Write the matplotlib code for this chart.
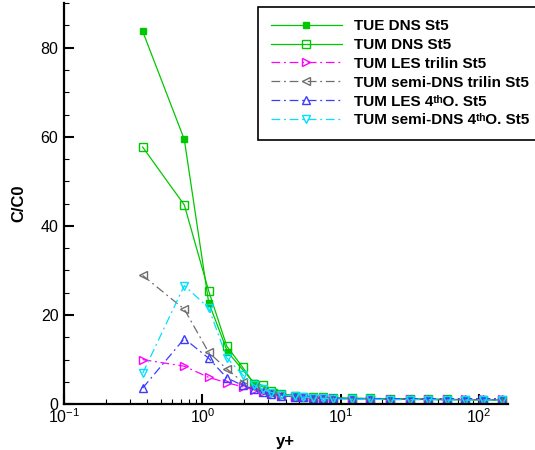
import matplotlib
matplotlib.use("Agg")
import matplotlib.pyplot as plt
from matplotlib.ticker import MultipleLocator, LogLocator, LogFormatterMathtext, NullFormatter

plt.rcParams['font.family'] = ['Liberation Sans', 'DejaVu Sans']
plt.rcParams['mathtext.fontset'] = 'custom'
plt.rcParams['mathtext.rm'] = 'Liberation Sans'
plt.rcParams['mathtext.it'] = 'Liberation Sans:italic'
plt.rcParams['mathtext.bf'] = 'Liberation Sans:bold'

# y+ positions of the TUM runs
yplusTum = [0.37, 0.74, 1.11, 1.5, 1.95, 2.35, 2.75, 3.15, 3.7, 4.65, 5.3, 6.3, 7.4, 8.75,
            12, 16.2, 22.6, 31.6, 42.6, 58, 78.5, 106, 145]
# y+ positions of the TUE run
yplusTue = [0.37, 0.74, 1.11, 1.52, 2.35, 3.3, 4.65, 6.3, 8.75, 12, 16.2, 22.6, 31.6,
            42.6, 58, 78.5, 106, 145]

tueDns = [83.7, 59.4, 22.8, 11.7, 4.8, 2.7, 1.8, 1.5, 1.4, 1.3, 1.2, 1.2, 1.1, 1.1, 1.0, 1.0, 0.9, 0.9]
tumDns = [57.7, 44.7, 25.4, 13.0, 8.3, 4.6, 4.2, 2.9, 2.3, 1.9, 1.7, 1.6, 1.5, 1.4,
          1.3, 1.3, 1.2, 1.2, 1.1, 1.1, 1.0, 1.0, 0.9]
tumLesTrilin = [10.0, 8.5, 6.0, 4.8, 3.9, 3.2, 2.7, 2.2, 1.9, 1.7, 1.5, 1.4, 1.3, 1.3,
                1.2, 1.2, 1.2, 1.2, 1.2, 1.2, 1.2, 1.2, 1.2]
tumSemiTrilin = [28.9, 21.3, 11.6, 7.9, 5.0, 3.8, 3.0, 2.4, 2.0, 1.7, 1.5, 1.4, 1.3, 1.2,
                 1.2, 1.1, 1.1, 1.1, 1.0, 1.0, 1.0, 1.0, 1.0]
tumLes4th = [3.6, 14.7, 10.3, 5.9, 4.2, 3.4, 2.8, 2.3, 1.9, 1.7, 1.5, 1.4, 1.3, 1.3,
             1.2, 1.2, 1.2, 1.2, 1.2, 1.2, 1.2, 1.2, 1.2]
tumSemi4th = [6.9, 26.6, 21.6, 10.4, 6.6, 4.3, 3.3, 2.6, 2.1, 1.8, 1.6, 1.4, 1.3, 1.2,
              1.1, 1.1, 1.0, 1.0, 1.0, 0.9, 0.9, 0.9, 0.9]

labels = ["TUE DNS St5", "TUM DNS St5", "TUM LES trilin St5", "TUM semi-DNS trilin St5",
          "TUM LES 4\u1d57\u02b0O. St5", "TUM semi-DNS 4\u1d57\u02b0O. St5"]

fig = plt.figure(figsize=(5.35, 4.5), dpi=100)
ax = fig.add_axes([0.1196, 0.102, 0.829, 0.891])

dashDot = (0, (7, 3, 1.5, 3))
ax.plot(yplusTue, tueDns, color='#00c800', lw=0.9, marker='s', ms=5, mfc='#00c800', label=labels[0])
ax.plot(yplusTum, tumDns, color='#00c800', lw=0.9, marker='s', ms=6, mfc='none', label=labels[1])
ax.plot(yplusTum, tumLesTrilin, color='#ff00ff', lw=0.9, ls=dashDot, marker='>', ms=6, mfc='none', label=labels[2])
ax.plot(yplusTum, tumSemiTrilin, color='#6e6e6e', lw=0.9, ls=dashDot, marker='<', ms=6, mfc='none', label=labels[3])
ax.plot(yplusTum, tumLes4th, color='#3c3cff', lw=0.9, ls=dashDot, marker='^', ms=6, mfc='none', label=labels[4])
ax.plot(yplusTum, tumSemi4th, color='#00e0ff', lw=0.9, ls=dashDot, marker='v', ms=6, mfc='none', label=labels[5])

ax.set_xscale('log')
ax.set_xlim(0.1, 160)
ax.set_ylim(0, 90)
ax.spines['top'].set_visible(False)
ax.spines['right'].set_visible(False)
ax.spines['left'].set_linewidth(1.6)
ax.spines['bottom'].set_linewidth(1.6)

ax.yaxis.set_major_locator(MultipleLocator(20))
ax.yaxis.set_minor_locator(MultipleLocator(5))
ax.xaxis.set_major_locator(LogLocator(base=10))
ax.xaxis.set_major_formatter(LogFormatterMathtext())
ax.xaxis.set_minor_locator(LogLocator(base=10, subs=range(2, 10)))
ax.xaxis.set_minor_formatter(NullFormatter())
ax.tick_params(which='major', direction='in', length=7, width=1.5, labelsize=11.5)
ax.tick_params(axis='x', which='major', pad=2)
ax.tick_params(axis='y', which='major', pad=4)
ax.tick_params(which='minor', direction='in', length=3.5, width=0.8)

ax.set_xlabel('y+', fontsize=12, fontweight='bold', labelpad=6)
ax.set_ylabel('C/C0', fontsize=12, fontweight='bold', labelpad=10)

leg = ax.legend(loc='upper right', bbox_to_anchor=(1.012, 0.985), bbox_transform=fig.transFigure,
                prop={'weight': 'bold', 'size': 11}, handlelength=4.65, labelspacing=0.32,
                fancybox=False, edgecolor='black', framealpha=1, borderpad=0.8,
                handletextpad=0.8, markerscale=0.85, borderaxespad=0)
leg.get_frame().set_linewidth(1.2)

fig.savefig('out.png', dpi=100)
